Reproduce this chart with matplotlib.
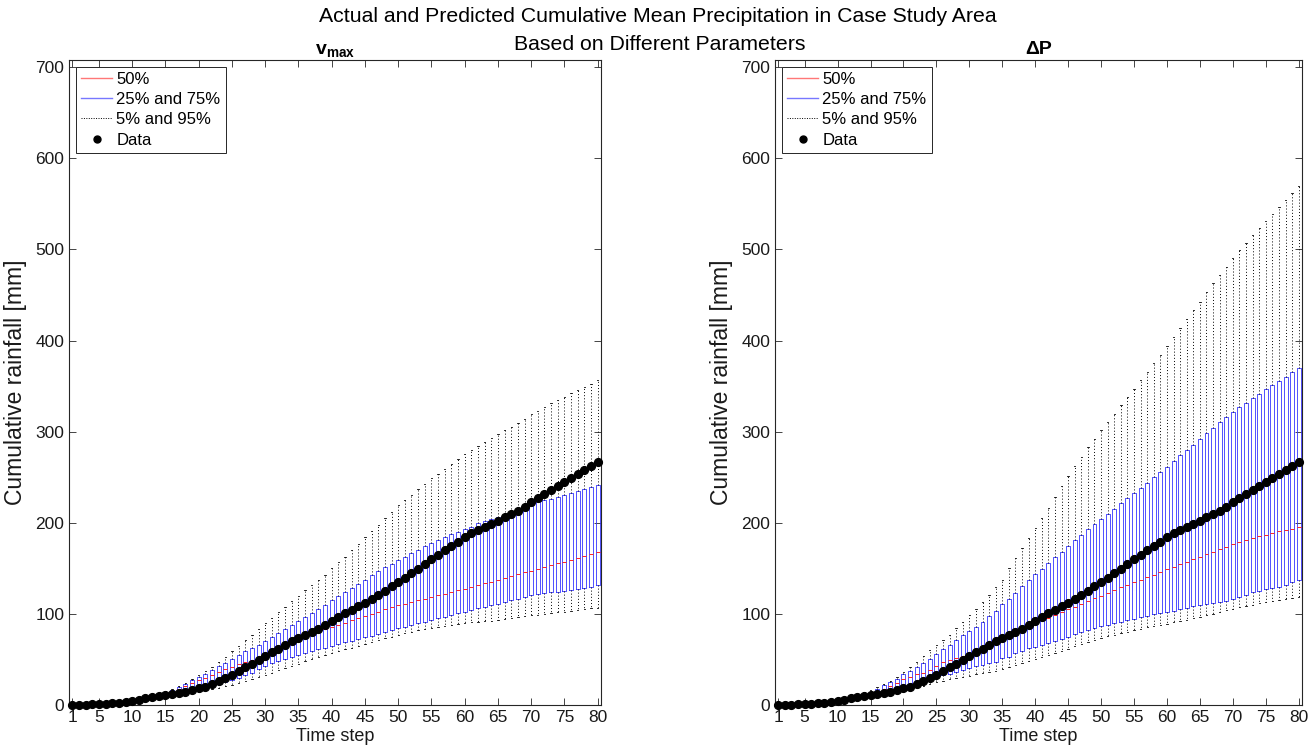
import matplotlib
matplotlib.use("Agg")
import matplotlib.pyplot as plt
from matplotlib.lines import Line2D

plt.rcParams['font.family'] = ['Liberation Sans', 'DejaVu Sans']
plt.rcParams['mathtext.fontset'] = 'custom'
plt.rcParams['mathtext.rm'] = 'Liberation Sans'
plt.rcParams['mathtext.bf'] = 'Liberation Sans:bold'

steps = list(range(1, 81))
xtick_vals = [1, 5, 10, 15, 20, 25, 30, 35, 40, 45, 50, 55, 60, 65, 70, 75, 80]
ytick_vals = [0, 100, 200, 300, 400, 500, 600, 700]

data_obs = [0.0, 0.2, 0.4, 0.6, 1.0, 1.4, 2.0, 2.7, 3.3, 4.0,
            6.0, 7.2, 8.6, 9.8, 11.0, 12.3, 13.5, 14.8, 16.6, 18.4,
            20.3, 23.0, 26.2, 29.5, 33.0, 37.5, 41.2, 45.4, 49.4, 53.8,
            58.0, 61.9, 65.8, 69.8, 73.8, 77.0, 80.0, 83.8, 88.2, 92.2,
            96.8, 100.8, 104.8, 108.8, 112.5, 116.8, 120.5, 125.0, 130.4, 135.0,
            139.7, 144.5, 149.6, 154.8, 160.0, 165.0, 169.8, 174.5, 179.3, 184.0,
            188.4, 192.0, 195.0, 199.0, 202.5, 206.0, 209.7, 213.4, 217.7, 222.5,
            227.0, 232.0, 236.0, 240.4, 244.5, 248.8, 253.2, 257.6, 262.7, 266.7]

# ---- left panel (v_max) ----
vmax_q05 = [0.0, 0.1, 0.3, 0.5, 0.7, 1.0, 1.4, 1.9, 2.5, 3.2,
            4.0, 4.8, 5.7, 6.7, 7.8, 9.0, 10.2, 11.5, 13.0, 14.5,
            16.0, 17.5, 19.0, 20.5, 22.0, 24.0, 26.0, 28.0, 30.5, 33.0,
            35.5, 38.0, 40.5, 43.0, 45.5, 48.0, 50.5, 53.0, 55.0, 57.0,
            59.0, 61.0, 63.0, 65.0, 67.0, 69.0, 71.0, 73.0, 75.0, 77.0,
            78.7, 80.6, 82.0, 83.5, 85.0, 86.1, 87.2, 88.3, 89.4, 90.5,
            91.0, 91.6, 92.2, 92.7, 93.8, 94.9, 96.0, 97.1, 97.9, 98.6,
            99.3, 100.0, 100.8, 101.6, 102.5, 103.3, 104.2, 105.1, 106.0, 107.0]
vmax_q25 = [0.0, 0.2, 0.4, 0.6, 0.9, 1.3, 1.8, 2.4, 3.1, 3.9,
            4.8, 5.8, 7.0, 8.2, 9.5, 11.0, 13.0, 15.0, 16.5, 18.4,
            20.0, 22.0, 23.5, 25.5, 27.5, 30.0, 32.5, 35.5, 39.0, 43.0,
            46.0, 48.5, 51.0, 53.0, 55.0, 57.0, 59.0, 61.0, 63.0, 64.9,
            66.7, 68.9, 70.7, 72.9, 74.8, 76.2, 78.4, 80.6, 82.5, 84.3,
            86.1, 88.0, 89.8, 91.6, 93.8, 95.6, 97.1, 98.8, 100.7, 102.6,
            104.5, 106.3, 108.0, 109.5, 111.0, 113.0, 115.0, 116.8, 118.5, 120.2,
            121.5, 122.6, 123.5, 124.3, 125.4, 126.4, 127.6, 128.8, 130.0, 131.4]
vmax_q50 = [0.0, 0.3, 0.5, 0.8, 1.2, 1.7, 2.3, 3.0, 3.8, 4.8,
            6.0, 7.3, 8.8, 10.3, 12.5, 15.0, 17.8, 20.6, 23.8, 27.0,
            30.0, 33.0, 36.0, 39.0, 42.0, 44.5, 47.0, 49.5, 52.0, 54.5,
            58.0, 61.0, 64.5, 68.0, 71.0, 74.0, 77.0, 80.0, 83.0, 85.5,
            88.0, 90.5, 93.0, 95.5, 98.0, 100.3, 102.6, 104.9, 107.2, 109.5,
            111.3, 113.1, 114.9, 116.7, 118.5, 120.3, 122.1, 123.9, 125.7, 127.5,
            129.5, 131.5, 133.5, 135.5, 137.5, 139.5, 141.5, 143.5, 145.5, 147.5,
            149.5, 151.5, 153.5, 155.5, 157.5, 159.5, 161.5, 163.5, 165.8, 168.0]
vmax_q75 = [0.0, 0.3, 0.6, 0.9, 1.3, 1.8, 2.5, 3.3, 4.2, 5.3,
            6.6, 8.0, 9.6, 11.3, 13.5, 16.0, 19.5, 23.0, 27.0, 30.5,
            34.5, 38.5, 42.5, 46.5, 51.0, 55.0, 59.0, 62.5, 66.0, 70.0,
            74.5, 79.0, 83.5, 88.0, 92.0, 96.5, 101.0, 105.5, 110.0, 115.0,
            119.6, 123.6, 128.7, 132.8, 137.0, 142.3, 147.0, 151.0, 155.0, 159.0,
            162.8, 167.0, 170.0, 174.5, 178.0, 181.0, 184.0, 187.7, 190.2, 192.8,
            195.7, 199.4, 202.3, 204.0, 206.7, 208.5, 212.0, 215.8, 219.4, 222.0,
            224.0, 225.0, 226.5, 228.6, 230.5, 232.5, 234.5, 236.6, 238.8, 241.0]
vmax_q95 = [0.2, 0.5, 0.9, 1.3, 1.8, 2.4, 3.1, 4.0, 5.0, 6.2,
            7.6, 9.2, 11.0, 13.0, 15.5, 18.0, 21.0, 24.5, 28.5, 33.0,
            37.5, 42.0, 47.0, 53.0, 59.5, 65.0, 71.5, 77.0, 83.0, 90.0,
            96.0, 102.0, 108.0, 114.0, 120.0, 126.0, 131.5, 137.0, 142.7, 150.0,
            156.6, 162.8, 170.0, 177.0, 184.0, 191.0, 198.0, 205.0, 212.0, 219.0,
            225.0, 231.0, 237.0, 243.0, 249.0, 254.0, 259.5, 265.0, 270.0, 275.0,
            279.5, 284.0, 288.5, 293.0, 297.0, 301.5, 305.5, 309.5, 314.0, 319.0,
            323.0, 327.0, 331.0, 335.0, 338.5, 342.0, 345.5, 349.0, 352.5, 357.0]

# ---- right panel (Delta P) ----
dp_q05 = [0.0, 0.1, 0.3, 0.5, 0.7, 1.0, 1.4, 1.9, 2.5, 3.2,
          4.0, 4.9, 5.9, 7.0, 8.5, 10.0, 11.8, 13.2, 14.8, 16.5,
          17.9, 19.4, 20.9, 23.0, 24.8, 26.5, 28.0, 29.3, 31.1, 32.3,
          34.0, 35.5, 36.6, 37.7, 39.1, 42.1, 43.9, 45.7, 48.7, 50.1,
          52.3, 54.7, 57.1, 59.5, 61.9, 64.3, 66.7, 69.1, 71.5, 74.0,
          75.6, 77.2, 78.8, 80.5, 82.1, 83.6, 85.1, 86.5, 88.0, 89.4,
          90.8, 92.3, 93.7, 95.2, 96.7, 98.5, 100.4, 102.2, 104.0, 105.9,
          107.3, 108.8, 110.3, 111.8, 113.2, 114.3, 115.4, 116.5, 117.6, 118.7]
dp_q25 = [0.0, 0.2, 0.4, 0.6, 0.9, 1.3, 1.8, 2.4, 3.1, 3.9,
          4.9, 6.0, 7.3, 8.6, 10.2, 12.0, 14.2, 16.5, 18.2, 19.6,
          21.9, 24.5, 25.6, 28.2, 30.4, 33.0, 34.5, 36.0, 38.4, 40.2,
          42.8, 43.9, 45.7, 47.6, 51.2, 53.1, 57.4, 59.6, 62.2, 64.0,
          65.9, 68.2, 70.5, 72.8, 75.1, 77.4, 79.8, 82.1, 84.4, 86.7,
          88.2, 89.6, 91.1, 93.3, 94.8, 96.3, 97.7, 99.5, 100.6, 102.1,
          103.5, 105.4, 106.8, 108.6, 109.7, 110.8, 111.6, 113.4, 114.5, 116.0,
          118.9, 121.1, 123.7, 125.1, 127.0, 128.4, 129.9, 131.7, 134.6, 137.1]
dp_q50 = [0.0, 0.3, 0.5, 0.8, 1.2, 1.7, 2.3, 3.0, 3.9, 5.0,
          6.3, 7.8, 9.5, 11.0, 12.1, 14.8, 17.9, 21.2, 24.5, 28.5,
          31.2, 33.5, 35.5, 38.5, 43.0, 47.0, 49.5, 52.0, 54.0, 57.0,
          60.6, 64.3, 66.8, 70.0, 73.1, 75.3, 79.7, 83.4, 86.3, 89.5,
          93.0, 96.0, 99.0, 102.0, 105.0, 108.0, 111.0, 114.0, 117.0, 120.0,
          123.0, 126.0, 129.0, 132.0, 134.8, 137.6, 140.4, 143.2, 146.0, 148.8,
          151.6, 154.4, 157.2, 160.0, 162.8, 165.6, 168.4, 171.2, 173.9, 176.5,
          178.8, 181.0, 183.0, 185.0, 187.0, 188.8, 190.5, 192.0, 193.6, 195.0]
dp_q75 = [0.0, 0.3, 0.6, 0.9, 1.3, 1.8, 2.5, 3.3, 4.3, 5.5,
          7.0, 8.6, 10.4, 12.4, 14.6, 17.9, 21.6, 25.4, 28.9, 33.5,
          37.7, 42.2, 46.3, 51.0, 55.8, 61.1, 65.9, 71.4, 76.9, 81.7,
          86.1, 91.5, 97.7, 103.6, 110.9, 116.0, 123.3, 130.6, 137.2, 143.8,
          149.3, 155.5, 162.0, 167.9, 174.5, 181.1, 186.9, 192.8, 198.3, 204.1,
          209.6, 215.4, 221.3, 227.1, 232.3, 238.1, 244.0, 249.8, 255.7, 261.5,
          267.7, 274.0, 279.8, 285.7, 291.9, 298.1, 304.0, 310.2, 315.7, 321.2,
          326.7, 331.8, 336.6, 341.4, 346.5, 350.9, 355.6, 360.4, 365.1, 369.6]
dp_q95 = [0.2, 0.5, 0.9, 1.3, 1.8, 2.4, 3.1, 4.0, 5.0, 6.3,
          7.8, 9.5, 11.5, 13.8, 16.4, 19.4, 23.0, 26.7, 30.4, 36.6,
          42.1, 47.6, 53.8, 60.4, 65.9, 71.4, 77.2, 84.2, 91.5, 98.8,
          105.0, 113.4, 120.7, 129.9, 137.2, 150.0, 161.0, 172.0, 183.0, 194.0,
          205.0, 216.0, 228.0, 240.0, 251.0, 262.0, 272.5, 283.0, 292.4, 301.9,
          310.7, 319.5, 329.4, 338.6, 346.6, 356.2, 365.7, 375.2, 384.3, 394.2,
          403.7, 413.6, 423.5, 433.7, 442.9, 452.8, 463.0, 472.2, 481.3, 490.5,
          499.6, 506.9, 516.1, 523.4, 531.8, 539.1, 546.4, 554.5, 562.5, 569.7]

W, H = 1313, 755
fig = plt.figure(figsize=(W / 100, H / 100), dpi=100)

ax_l = fig.add_axes([69 / W, 50 / H, 532 / W, 645 / H])
ax_r = fig.add_axes([775 / W, 50 / H, 527 / W, 645 / H])

axis_col = '#262626'
dot_style = (0, (1.0, 2.2))


def draw_panel(ax, q05, q25, q50, q75, q95, title):
    stats = []
    for i in range(len(steps)):
        stats.append(dict(med=q50[i], q1=q25[i], q3=q75[i],
                          whislo=q05[i], whishi=q95[i], fliers=[]))
    ax.bxp(stats, positions=steps, widths=0.6, showfliers=False,
           manage_ticks=False, capwidths=0.2,
           boxprops=dict(color='#3333ff', linewidth=0.6),
           whiskerprops=dict(color='black', linewidth=0.7, linestyle=dot_style),
           capprops=dict(color='black', linewidth=0.6),
           medianprops=dict(color='#ff2222', linewidth=0.7))
    ax.plot(steps, data_obs, 'o', color='black', markersize=5.6,
            clip_on=False, zorder=5)
    ax.set_xlim(0.5, 80.5)
    ax.set_ylim(0, 708)
    ax.set_xticks(xtick_vals)
    ax.set_xticklabels([str(v) for v in xtick_vals])
    ax.set_yticks(ytick_vals)
    ax.tick_params(direction='in', top=True, right=True, length=5, width=0.6,
                   labelsize=12.5, colors=axis_col, labelcolor='#1a1a1a')
    for sp in ax.spines.values():
        sp.set_color(axis_col)
        sp.set_linewidth(0.8)
    ax.set_xlabel('Time step', fontsize=13, labelpad=2, color='#1a1a1a')
    ax.set_ylabel('Cumulative rainfall [mm]', fontsize=16.5, labelpad=6, color='#1a1a1a')
    ax.set_title(title, fontsize=14, fontweight='bold', pad=4)
    handles = [Line2D([], [], color='#ff7777', lw=1.0),
               Line2D([], [], color='#7777ff', lw=1.0),
               Line2D([], [], color='black', lw=0.7, linestyle=(0, (1.0, 1.5))),
               Line2D([], [], color='black', marker='o', linestyle='None', markersize=5.0)]
    leg = ax.legend(handles, ['50%', '25% and 75%', '5% and 95%', 'Data'],
                    loc='upper left', fontsize=12, frameon=True, fancybox=False,
                    borderpad=0.3, labelspacing=0.32, handlelength=1.9,
                    handletextpad=0.25, borderaxespad=0.4)
    leg.get_frame().set_edgecolor(axis_col)
    leg.get_frame().set_linewidth(0.7)
    leg.get_frame().set_alpha(1.0)


draw_panel(ax_l, vmax_q05, vmax_q25, vmax_q50, vmax_q75, vmax_q95,
           r'$\mathbf{v}_{\mathbf{max}}$')
draw_panel(ax_r, dp_q05, dp_q25, dp_q50, dp_q75, dp_q95, 'ΔP')

fig.text(658 / W, 1 - 17 / H, 'Actual and Predicted Cumulative Mean Precipitation in Case Study Area',
         ha='center', va='center', fontsize=15.3)
fig.text(660 / W, 1 - 45 / H, 'Based on Different Parameters',
         ha='center', va='center', fontsize=15.3)

fig.savefig('out.png', dpi=100)
